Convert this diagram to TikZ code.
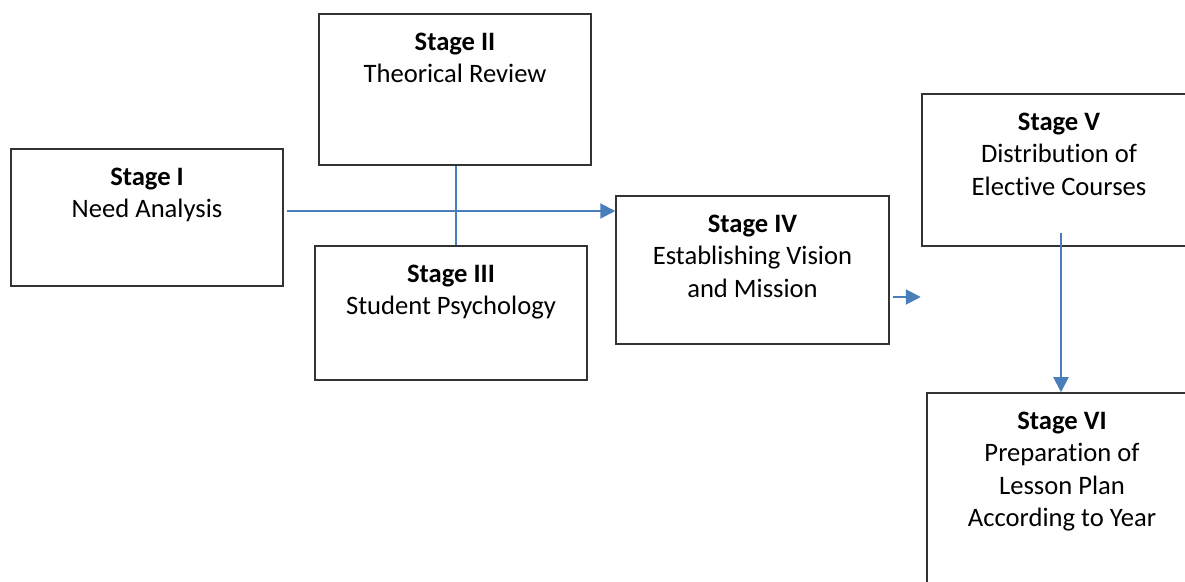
\documentclass[tikz,border=0pt]{standalone}
\usepackage{fontspec}
\setmainfont{Carlito}[Ligatures=NoCommon]
\usetikzlibrary{positioning,arrows.meta}
\definecolor{flowblue}{HTML}{4A7EBB}

\begin{document}
\begin{tikzpicture}[x=0.5pt,y=-0.5pt,font=\fontsize{13.3pt}{16.25pt}\selectfont]
\tikzstyle{stagebox}=[rectangle,draw=black!80,line width=0.75pt,inner sep=0pt]
\tikzstyle{stagetext}=[align=center,inner sep=0pt]
\tikzstyle{flow}=[draw=flowblue,line width=1pt,-{Triangle[length=7.5pt,width=7.5pt]}]
\tikzstyle{link}=[draw=flowblue,line width=1pt]
\clip (0,0) rectangle (1185,582);

\node[stagebox,minimum width=136pt,minimum height=68.5pt](s1) at (147,217.5) {};
\node[stagebox,minimum width=136pt,minimum height=75.5pt](s2) at (455,89.5) {};
\node[stagebox,minimum width=136pt,minimum height=67pt](s3) at (451,313) {};
\node[stagebox,minimum width=136.5pt,minimum height=74pt](s4) at (752.5,270) {};
\node[stagebox,minimum width=137pt,minimum height=76pt](s5) at (1059,170) {};
\node[stagebox,minimum width=135pt,minimum height=108.5pt](s6) at (1062,501.5) {};

\node[stagetext,below=9.5pt of s1.north](t1) {\textbf{Stage I}\\Need Analysis};
\node[stagetext,below=9.5pt of s2.north](t2) {\textbf{Stage II}\\Theorical Review};
\node[stagetext,below=9.5pt of s3.north](t3) {\textbf{Stage III}\\Student Psychology};
\node[stagetext,below=9.5pt of s4.north](t4) {\textbf{Stage IV}\\Establishing Vision\\and Mission};
\node[stagetext,below=9.5pt of s5.north](t5) {\textbf{Stage V}\\Distribution of\\Elective Courses};
\node[stagetext,below=9.5pt of s6.north](t6) {\textbf{Stage VI}\\Preparation of\\Lesson Plan\\According to Year};

\draw[link] ([xshift=0.5pt]s2.south) coordinate (c23) -- (c23 |- s3.north); % II joins III
\draw[flow] ([xshift=1.5pt,yshift=3.25pt]s1.east) coordinate (c14) -- (c14 -| s4.west);
\draw[flow] ([xshift=1.5pt,yshift=-13.5pt]s4.east) coordinate (c45) -- ([xshift=14pt]c45);
\draw[flow] ([xshift=1pt,yshift=7pt]s5.south) coordinate (c56) -- (c56 |- s6.north);

\end{tikzpicture}
\end{document}
